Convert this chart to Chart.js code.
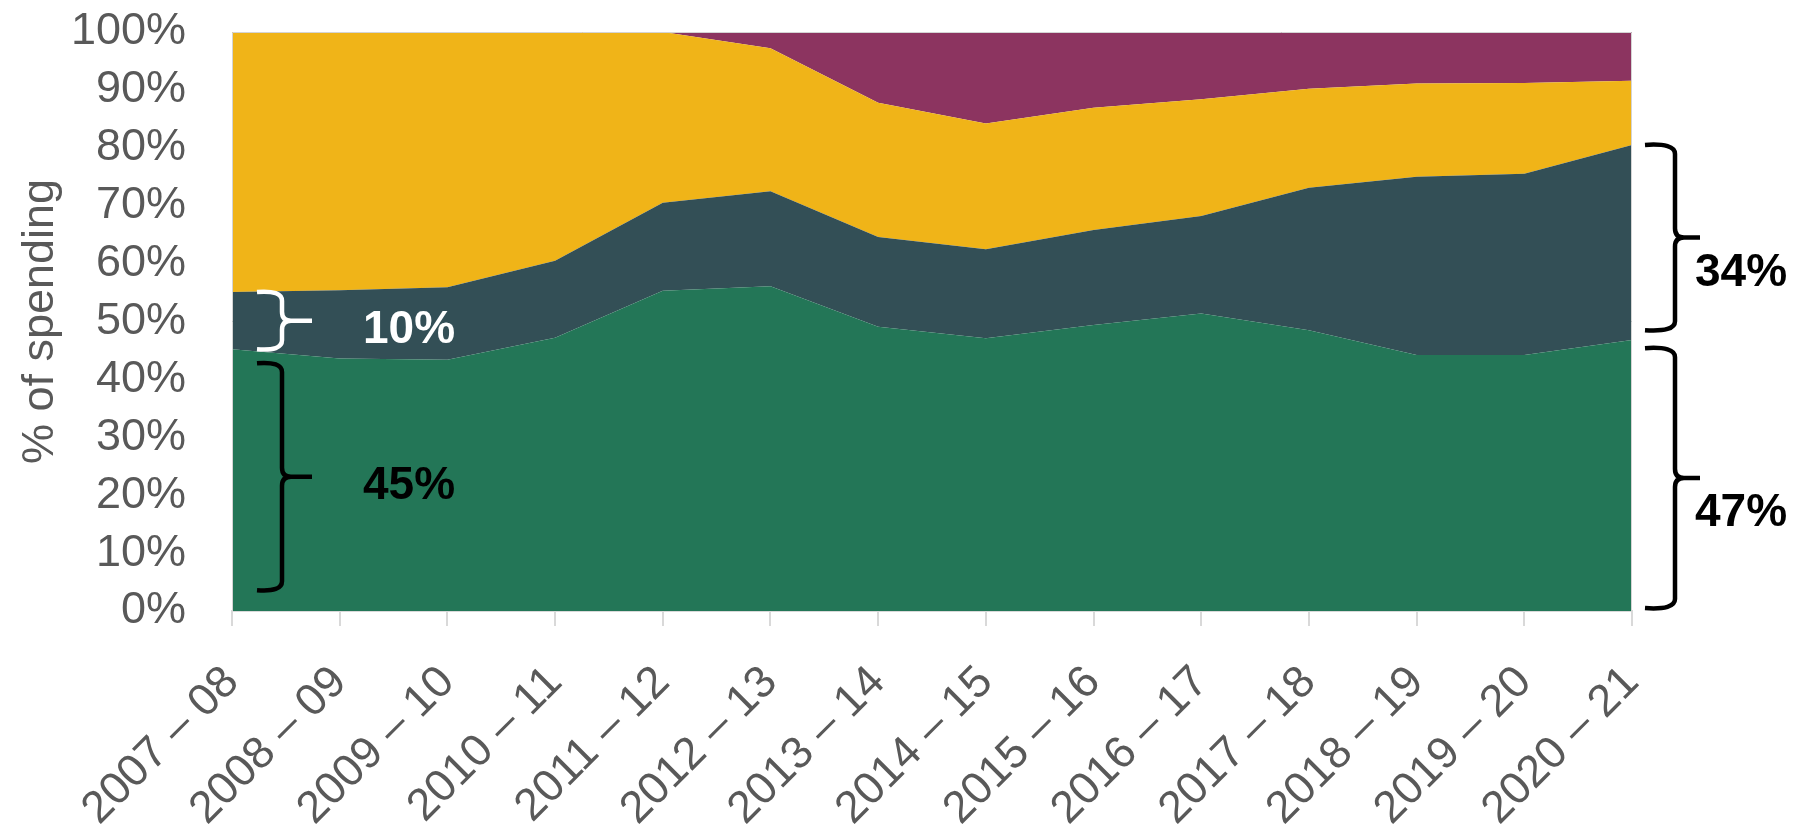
<!DOCTYPE html>
<html>
<head>
<meta charset="utf-8">
<script src="https://cdn.jsdelivr.net/npm/chart.js@4.4.1/dist/chart.umd.min.js"></script>
<style>
  html, body { margin: 0; padding: 0; background: #ffffff; }
  #wrap { width: 1802px; height: 824px; position: relative; }
</style>
</head>
<body>
<div id="wrap"><canvas id="c" width="1802" height="824"></canvas></div>
<script>
const categories = ["2007 \u2013 08","2008 \u2013 09","2009 \u2013 10","2010 \u2013 11","2011 \u2013 12","2012 \u2013 13","2013 \u2013 14","2014 \u2013 15","2015 \u2013 16","2016 \u2013 17","2017 \u2013 18","2018 \u2013 19","2019 \u2013 20","2020 \u2013 21"];
const seriesGreen  = [45.2, 43.6, 43.4, 47.2, 55.3, 56.1, 49.1, 47.1, 49.4, 51.4, 48.5, 44.2, 44.2, 46.8];
const seriesSlate  = [ 9.9, 11.8, 12.5, 13.3, 15.2, 16.4, 15.5, 15.4, 16.4, 16.8, 24.6, 30.8, 31.3, 33.7];
const seriesYellow = [44.9, 44.6, 44.1, 39.5, 29.5, 24.7, 23.2, 21.7, 21.1, 20.2, 17.1, 16.1, 15.7, 11.1];
const seriesPurple = [ 0.0,  0.0,  0.0,  0.0,  0.0,  2.8, 12.2, 15.8, 13.1, 11.6,  9.8,  8.9,  8.8,  8.4];
const yTicks = [0, 10, 20, 30, 40, 50, 60, 70, 80, 90, 100];
const yTitle = "% of spending";

// brace annotations: [from value, to value, label, side]
const braceFrom  = [55.1, 42.8, 80.5, 45.4];
const braceTo    = [45.2,  3.6, 48.5,  0.5];
const braceLabel = ["10%", "45%", "34%", "47%"];
const braceSide  = ["left", "left", "right", "right"];
const braceColor = ["#ffffff", "#000000", "#000000", "#000000"];

const bracePlugin = {
  id: 'braces',
  afterDatasetsDraw(chart) {
    const ctx = chart.ctx;
    const area = chart.chartArea;
    const y = chart.scales.y;
    ctx.save();
    ctx.strokeStyle = '#d4d4d4';
    ctx.lineWidth = 1;
    ctx.beginPath();
    ctx.moveTo(area.left + 0.5, area.bottom);
    ctx.lineTo(area.left + 0.5, area.top + 0.5);
    ctx.lineTo(area.right - 0.5, area.top + 0.5);
    ctx.lineTo(area.right - 0.5, area.bottom);
    ctx.stroke();
    ctx.restore();

    for (let i = 0; i < braceFrom.length; i++) {
      const yTop = y.getPixelForValue(braceFrom[i]);
      const yBot = y.getPixelForValue(braceTo[i]);
      const yTip = (yTop + yBot) / 2;
      let xEnd, xSpine, xTip, xLabel;
      if (braceSide[i] === 'left') {
        xEnd = area.left + 25; xSpine = area.left + 50; xTip = area.left + 80; xLabel = area.left + 131;
      } else {
        xEnd = area.right + 13; xSpine = area.right + 43; xTip = area.right + 68; xLabel = area.right + 63;
      }
      const r = 9;
      ctx.save();
      ctx.strokeStyle = braceColor[i];
      ctx.lineWidth = 4.5;
      ctx.lineCap = 'butt';
      ctx.lineJoin = 'round';
      ctx.beginPath();
      ctx.moveTo(xEnd, yTop);
      ctx.quadraticCurveTo(xSpine, yTop - 2, xSpine, yTop + r);
      ctx.lineTo(xSpine, yTip - r);
      ctx.quadraticCurveTo(xSpine, yTip, xSpine + r, yTip);
      ctx.lineTo(xTip, yTip);
      ctx.moveTo(xSpine + r, yTip);
      ctx.quadraticCurveTo(xSpine, yTip, xSpine, yTip + r);
      ctx.lineTo(xSpine, yBot - r);
      ctx.quadraticCurveTo(xSpine, yBot + 2, xEnd, yBot);
      ctx.stroke();
      ctx.fillStyle = braceColor[i];
      ctx.font = 'bold 46px "Liberation Sans", Arial, sans-serif';
      ctx.textAlign = 'left';
      ctx.textBaseline = 'alphabetic';
      const off = braceSide[i] === 'left' ? 22 : 48;
      ctx.fillText(braceLabel[i], xLabel, yTip + off);
      ctx.restore();
    }
  }
};

const FONT = '"Liberation Sans", Arial, sans-serif';

new Chart(document.getElementById('c'), {
  type: 'line',
  data: {
    labels: categories,
    datasets: [
      { label: 'Green',  data: seriesGreen,  backgroundColor: '#237657', fill: 'origin' },
      { label: 'Slate',  data: seriesSlate,  backgroundColor: '#334f56', fill: '-1' },
      { label: 'Yellow', data: seriesYellow, backgroundColor: '#f0b418', fill: '-1' },
      { label: 'Purple', data: seriesPurple, backgroundColor: '#8c3460', fill: '-1' }
    ].map(d => Object.assign(d, { borderWidth: 0, pointRadius: 0, pointHoverRadius: 0, tension: 0 }))
  },
  options: {
    responsive: false,
    animation: false,
    events: [],
    layout: { padding: { left: 10, right: 170, top: 32, bottom: 0 } },
    plugins: { legend: { display: false }, tooltip: { enabled: false } },
    scales: {
      x: {
        offset: false,
        grid: { display: true, drawOnChartArea: false, drawTicks: true, tickLength: 15, color: '#d9d9d9', lineWidth: 2 },
        border: { display: true, color: '#d9d9d9', width: 2 },
        ticks: { color: '#595959', font: { family: FONT, size: 45 }, maxRotation: 45, minRotation: 45, padding: 30, autoSkip: false },
        afterFit(scale) { scale.height = 213; }
      },
      y: {
        stacked: true,
        min: 0, max: 100,
        afterBuildTicks(scale) { scale.ticks = yTicks.map(v => ({ value: v })); },
        grid: { display: false, drawTicks: false },
        border: { display: false },
        ticks: { color: '#595959', font: { family: FONT, size: 45 }, padding: 46, autoSkip: false, callback: v => v + '%' },
        title: { display: true, text: yTitle, color: '#595959', font: { family: FONT, size: 45 }, padding: { top: 4, bottom: 0 } },
        afterFit(scale) { scale.width = 222; scale.paddingTop = 0; scale.paddingBottom = 0; }
      }
    }
  },
  plugins: [bracePlugin]
});
</script>
</body>
</html>
